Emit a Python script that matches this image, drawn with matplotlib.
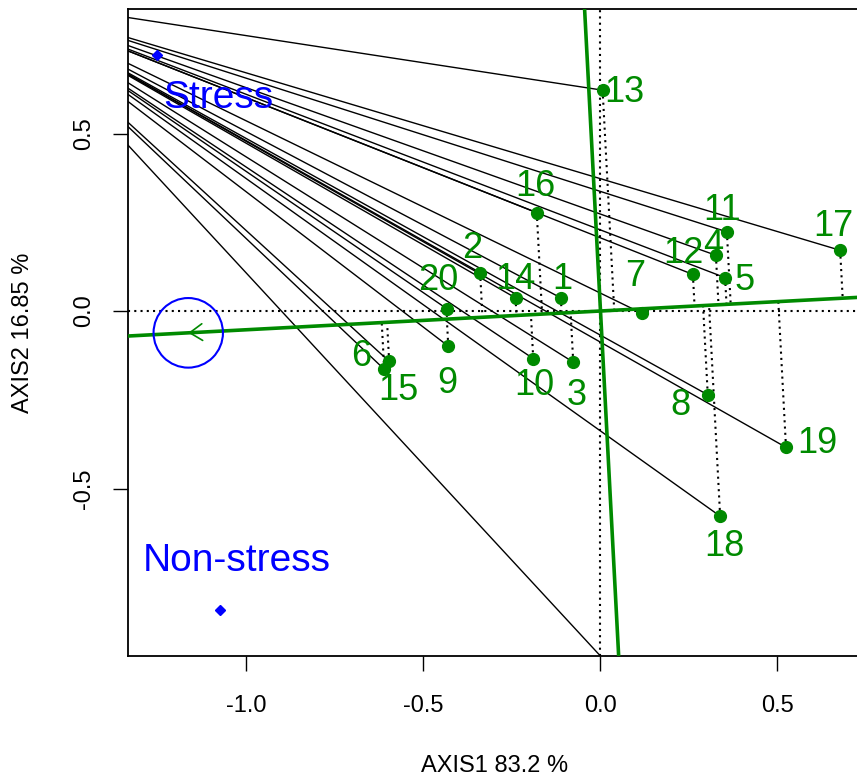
import numpy as np
import matplotlib.pyplot as plt
from matplotlib.patches import Circle

plt.rcParams['font.family'] = ['Liberation Sans', 'DejaVu Sans']
plt.rcParams['axes.unicode_minus'] = False

# genotype scores on the two axes
genotypes = [str(i) for i in range(1, 21)]
axis1 = [-0.112, -0.340, -0.077, 0.326, 0.352, -0.611, 0.116, 0.303, -0.430, -0.190,
         0.357, 0.261, 0.006, -0.240, -0.597, -0.180, 0.677, 0.338, 0.524, -0.435]
axis2 = [0.037, 0.108, -0.144, 0.157, 0.094, -0.164, -0.006, -0.236, -0.099, -0.134,
         0.223, 0.103, 0.622, 0.037, -0.142, 0.277, 0.171, -0.578, -0.384, 0.007]

# environment scores
environments = ['Stress', 'Non-stress']
env_axis1 = [-1.254, -1.075]
env_axis2 = [0.720, -0.843]

# common point the black rays come from, and the one extra ray end
ray_origin = (-1.723, 0.886)
extra_ray_end = (0.0, -0.972)

# label offsets in pixels (dx right, dy down)
label_offsets = {'1': (1, -21), '2': (-8, -27), '3': (3, 30), '4': (-3, -13),
                 '5': (19, 0), '6': (-23, -16), '7': (-6, -40), '8': (-27, 8),
                 '9': (-1, 34), '10': (1, 24), '11': (-5, -24), '12': (-9, -24),
                 '13': (22, -1), '14': (0, -21), '15': (9, 26), '16': (-1, -29),
                 '17': (-7, -27), '18': (4, 27), '19': (31, -7), '20': (-8, -31)}
env_offsets = {'Stress': (62, 40), 'Non-stress': (17, -52)}

green = '#008a00'
dotted = (0, (1.0, 2.0))
W, H = 857, 781
fig = plt.figure(figsize=(W / 100, H / 100), dpi=100)
left, right, top, bottom = 128, 862, 9, 656
ax = fig.add_axes([left / W, 1 - bottom / H, (right - left) / W, (bottom - top) / H])
ax.set_xlim(-1.3347, 0.7387)
ax.set_ylim(-0.9718, 0.8507)

x = np.array(axis1)
y = np.array(axis2)

# reference lines through origin
ax.axhline(0, color='black', lw=1.5, ls=dotted, zorder=1)
ax.axvline(0, color='black', lw=1.5, ls=dotted, zorder=1)

# rays
for gx, gy in zip(x, y):
    ax.plot([ray_origin[0], gx], [ray_origin[1], gy], color='black', lw=1, zorder=2)
ax.plot([ray_origin[0], extra_ray_end[0]], [ray_origin[1], extra_ray_end[1]],
        color='black', lw=1, zorder=2)

# average environment axis
mx, my = np.mean(env_axis1), np.mean(env_axis2)
ax.axline((0, 0), slope=my / mx, color=green, lw=2.6, zorder=3)
ax.axline((0, 0), slope=-mx / my, color=green, lw=2.6, zorder=3)
ax.annotate('', xy=(mx, my), xytext=(0, 0),
            arrowprops=dict(arrowstyle='->,head_length=0.45,head_width=0.3',
                            color=green, lw=1.2, mutation_scale=20, shrinkA=0, shrinkB=0),
            zorder=3)
ax.add_patch(Circle((mx, my), 0.098, fill=False, edgecolor='blue', lw=1.5, zorder=4))

# projections onto the average environment axis
u = np.array([mx, my]) / np.hypot(mx, my)
for gx, gy in zip(x, y):
    t = gx * u[0] + gy * u[1]
    ax.plot([gx, t * u[0]], [gy, t * u[1]], color='black', lw=1.5, ls=dotted, zorder=2)

ax.plot(x, y, 'o', color=green, ms=8.5, zorder=5)
for name, gx, gy in zip(genotypes, x, y):
    dx, dy = label_offsets[name]
    ax.annotate(name, (gx, gy), xytext=(dx, -dy - 3), textcoords='offset pixels',
                ha='center', va='center', color=green, fontsize=26, zorder=6)

ax.plot(env_axis1, env_axis2, 'D', color='blue', ms=5.2, zorder=5)
for name, ex, ey in zip(environments, env_axis1, env_axis2):
    dx, dy = env_offsets[name]
    ax.annotate(name, (ex, ey), xytext=(dx, -dy - 3), textcoords='offset pixels',
                ha='center', va='center', color='blue', fontsize=28, zorder=6)

ax.set_xticks([-1.0, -0.5, 0.0, 0.5])
ax.set_yticks([-0.5, 0.0, 0.5])
ax.tick_params(axis='both', direction='out', length=10.8, width=1, labelsize=17)
ax.tick_params(axis='x', pad=17)
ax.tick_params(axis='y', pad=13)
for lab in ax.get_yticklabels():
    lab.set_rotation(90)
    lab.set_va('center')
for s in ax.spines.values():
    s.set_linewidth(1.3)

fig.text((left + right) / 2 / W, 1 - 766 / H, 'AXIS1 83.2 %', ha='center', va='center', fontsize=17)
fig.text(23 / W, 1 - (top + bottom) / 2 / H, 'AXIS2 16.85 %', ha='center', va='center',
         rotation=90, fontsize=17)

fig.savefig('out.png', dpi=100)
